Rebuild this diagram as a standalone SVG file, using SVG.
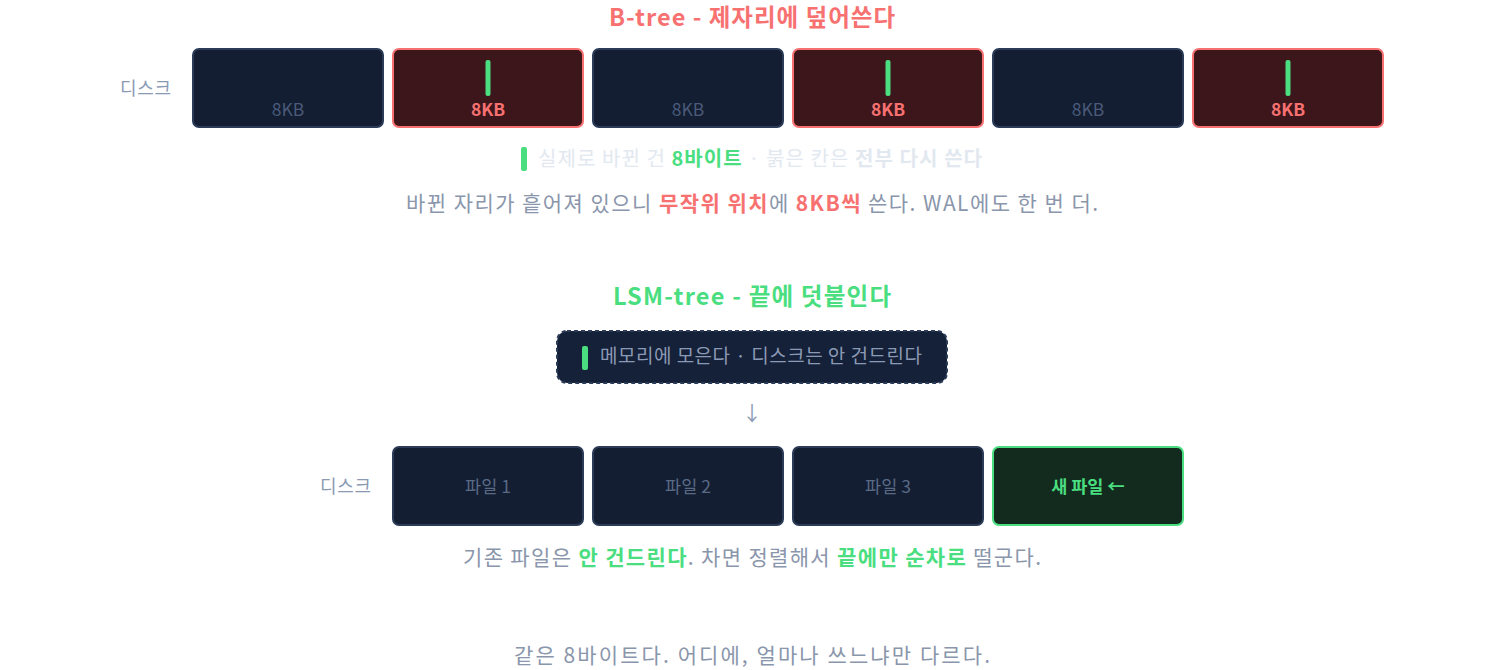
<svg xmlns="http://www.w3.org/2000/svg" width="1504" height="670" viewBox="0 0 1504 670">
<style>
text{font-family:"Noto Sans CJK KR","Noto Sans",sans-serif}
.title{font-size:23.5px;font-weight:700}
.lbl{font-size:18px;fill:#8b9ab4}
.blk{fill:#131e33;stroke:#2c3c58;stroke-width:2}
.hot{fill:#3c161a;stroke:#f87171;stroke-width:2}
.new{fill:#132b1e;stroke:#4ade80;stroke-width:2}
.kb{font-size:17.5px;text-anchor:middle;fill:#4a5a78}
.kbh{font-size:17.5px;text-anchor:middle;fill:#f87171;font-weight:700}
.bar{fill:#4ade80}
.cap{font-size:21px;fill:#8a96ab}
.r{fill:#f87171;font-weight:700}
.g{fill:#4ade80;font-weight:700}
.file{font-size:17.5px;text-anchor:middle;fill:#5a6a85}
</style>
<text class="title" x="609" y="25.5" textLength="286" fill="#f87171">B-tree - 제자리에 덮어쓴다</text>
<text class="lbl" x="120" y="95" textLength="51">디스크</text>
<g id="b1"><rect class="blk" x="193" y="49" width="190" height="78" rx="6"/><text class="kb" x="288" y="116">8KB</text></g>
<g id="b2"><rect class="hot" x="393" y="49" width="190" height="78" rx="6"/><rect class="bar" x="485.5" y="60" width="5" height="36" rx="2"/><text class="kbh" x="488" y="116">8KB</text></g>
<g id="b3"><rect class="blk" x="593" y="49" width="190" height="78" rx="6"/><text class="kb" x="688" y="116">8KB</text></g>
<g id="b4"><rect class="hot" x="793" y="49" width="190" height="78" rx="6"/><rect class="bar" x="885.5" y="60" width="5" height="36" rx="2"/><text class="kbh" x="888" y="116">8KB</text></g>
<g id="b5"><rect class="blk" x="993" y="49" width="190" height="78" rx="6"/><text class="kb" x="1088" y="116">8KB</text></g>
<g id="b6"><rect class="hot" x="1193" y="49" width="190" height="78" rx="6"/><rect class="bar" x="1285.5" y="60" width="5" height="36" rx="2"/><text class="kbh" x="1288" y="116">8KB</text></g>
<g id="legend"><rect class="bar" x="521" y="147" width="6" height="24" rx="2"/>
<text x="538" y="166" font-size="20" fill="#e2e8f0" textLength="444">실제로 바뀐 건 <tspan class="g">8바이트</tspan> · 붉은 칸은 <tspan font-weight="700">전부 다시 쓴다</tspan></text></g>
<text class="cap" x="406" y="211" textLength="692">바뀐 자리가 흩어져 있으니 <tspan class="r">무작위 위치</tspan>에 <tspan class="r">8KB씩</tspan> 쓴다. WAL에도 한 번 더.</text>
<text class="title" x="613" y="305" textLength="278" fill="#4ade80">LSM-tree - 끝에 덧붙인다</text>
<g id="mem"><rect x="557" y="331" width="390" height="52" rx="10" fill="#152039" stroke="#2c3c58" stroke-width="2" stroke-dasharray="4 3"/><rect class="bar" x="582" y="346" width="6" height="24" rx="2"/><text x="600" y="363" font-size="19" fill="#8b9ab4" textLength="322">메모리에 모은다 · 디스크는 안 건드린다</text></g>
<g id="conn"><text x="752" y="421" font-size="20" text-anchor="middle" fill="#8b9ab4">↓</text></g>
<text class="lbl" x="320" y="493" textLength="51">디스크</text>
<g id="f1"><rect class="blk" x="393" y="447" width="190" height="78" rx="6"/><text class="file" x="488" y="493">파일 1</text></g>
<g id="f2"><rect class="blk" x="593" y="447" width="190" height="78" rx="6"/><text class="file" x="688" y="493">파일 2</text></g>
<g id="f3"><rect class="blk" x="793" y="447" width="190" height="78" rx="6"/><text class="file" x="888" y="493">파일 3</text></g>
<g id="f4"><rect class="new" x="993" y="447" width="190" height="78" rx="6"/><text class="file" x="1088" y="493" style="fill:#4ade80;font-weight:700">새 파일 ←</text></g>
<text class="cap" x="463" y="565" textLength="578">기존 파일은 <tspan class="g">안 건드린다</tspan>. 차면 정렬해서 <tspan class="g">끝에만 순차로</tspan> 떨군다.</text>
<text class="cap" x="514" y="663" textLength="476">같은 8바이트다. 어디에, 얼마나 쓰느냐만 다르다.</text>
</svg>
